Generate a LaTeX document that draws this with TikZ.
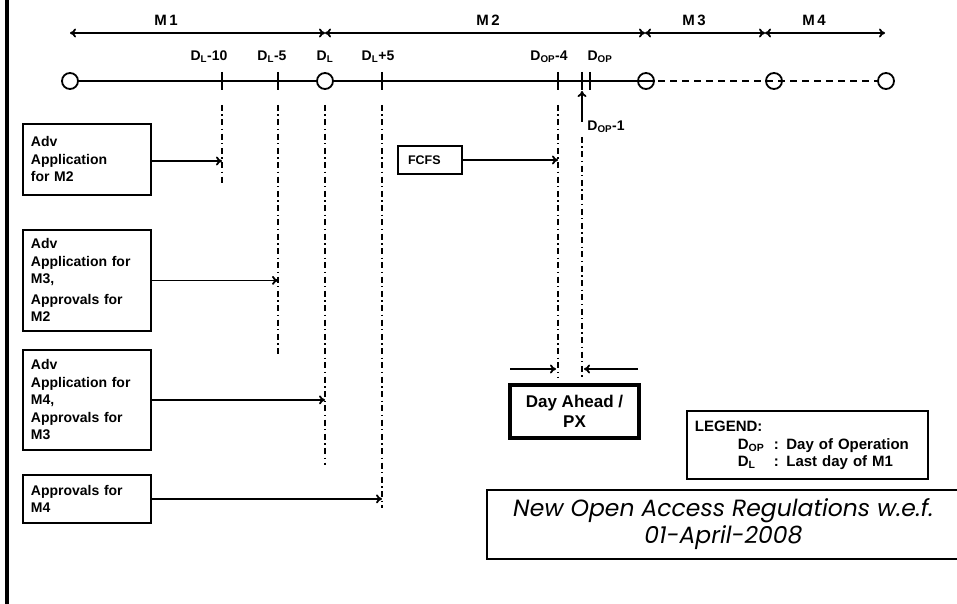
\documentclass[tikz,border=0pt]{standalone}
\usepackage{fontspec}
\setmainfont{Liberation Sans}
\newfontfamily\titlefont{Poppins}
\usetikzlibrary{arrows.meta}
\newcommand\dLsub{D\textsubscript{L}}
\newcommand\dOPsub{D\textsubscript{OP}}
\begin{document}
\begin{tikzpicture}[x=1pt,y=-1pt,
  thin line/.style={line width=1.8pt},
  span/.style={line width=1.8pt,{To[length=6pt,width=9pt]}-{To[length=6pt,width=9pt]}},
  arr/.style={line width=1.8pt,-{To[length=6pt,width=9pt]}},
  dd/.style={line width=1.7pt,dash pattern=on 6pt off 3.5pt on 1.3pt off 3.5pt},
  circ/.style={draw,circle,line width=1.8pt,minimum size=16pt,inner sep=0pt},
  mlabel/.style={font=\bfseries\fontsize{15}{17}\selectfont},
  dlabel/.style={font=\bfseries\fontsize{14}{16}\selectfont},
  lbox/.style={draw,line width=1.8pt,anchor=north west,minimum width=128pt,
    text width=112pt,align=left,inner xsep=8pt,inner ysep=0pt,
    font=\bfseries\fontsize{14}{17.5}\selectfont}
]
\clip (0,0) rectangle (957,604);
% left border
\draw[line width=4pt] (7,-5) -- (7,610);
% month spans
\coordinate (s0) at (70,33);
\coordinate (s1) at (325,33);
\coordinate (s2) at (645,33);
\coordinate (s3) at (765,33);
\coordinate (s4) at (885,33);
\draw[span] (s0) -- (s1);
\draw[span] (s1) -- (s2);
\draw[span] (s2) -- (s3);
\draw[span] (s3) -- (s4);
\node[mlabel] (m1) at (166,20) {M\,1};
\node[mlabel] (m2) at (488,20) {M\,2};
\node[mlabel] (m3) at (694,20) {M\,3};
\node[mlabel] (m4) at (814,20) {M\,4};
% timeline
\node[circ] (c0) at (70,81) {};
\node[circ] (c1) at (325,81) {};
\node[circ] (c2) at (646,81) {};
\node[circ] (c3) at (774,81) {};
\node[circ] (c4) at (886,81) {};
\draw[thin line] (c0) -- (c1) -- (c2.center);
\draw[thin line,dash pattern=on 7pt off 5pt] (c2.center) -- (c3.center) -- (c4);
% ticks
\foreach \x in {222,278,382,558,582,590}
  \draw[thin line] (\x,72) -- (\x,90);
% tick labels
\node[dlabel] (l1) at (209,57) {\dLsub-10};
\node[dlabel] (l2) at (272,57) {\dLsub-5};
\node[dlabel] (l3) at (325,57) {\dLsub};
\node[dlabel] (l4) at (378,57) {\dLsub+5};
\node[dlabel] (l5) at (549,57) {\dOPsub-4};
\node[dlabel] (l6) at (600,57) {\dOPsub};
\node[dlabel] (l7) at (606,127) {\dOPsub-1};
% vertical dash-dot lines
\coordinate (v1t) at (222,105); \coordinate (v1b) at (222,185);
\coordinate (v2t) at (278,105); \coordinate (v2b) at (278,355);
\coordinate (v3t) at (325,105); \coordinate (v3b) at (325,465);
\coordinate (v4t) at (382,105); \coordinate (v4b) at (382,508);
\coordinate (v5t) at (558,105); \coordinate (v5b) at (558,377);
\coordinate (v6t) at (582,137); \coordinate (v6b) at (582,377);
\draw[dd] (v1t) -- (v1b);
\draw[dd] (v2t) -- (v2b);
\draw[dd] (v3t) -- (v3b);
\draw[dd] (v4t) -- (v4b);
\draw[dd] (v5t) -- (v5b);
\draw[dd] (v6t) -- (v6b);
% D_OP-1 arrow
\coordinate (u0) at (582,122);
\coordinate (u1) at (582,91);
\draw[arr] (u0) -- (u1);
% left boxes
\node[lbox,minimum height=71pt] (b1) at (22,123) {Adv\\Application\\for M2};
\node[lbox,minimum height=101pt] (b2) at (22,229) {Adv\\Application for\\M3,\\[3pt]Approvals for\\M2};
\node[lbox,minimum height=100pt] (b3) at (22,349) {Adv\\Application for\\M4,\\Approvals for\\M3};
\node[lbox,minimum height=48pt] (b4) at (22,474) {Approvals for\\M4};
\draw[arr] (b1.east |- 0,161) -- (222,161);
\draw[arr] (b2.east) -- (b2.east -| v2t);
\draw[arr] (b3.east) -- (b3.east -| v3t);
\draw[arr] (b4.east) -- (b4.east -| v4t);
% FCFS
\node[draw,line width=1.8pt,minimum width=64pt,minimum height=28pt,
  text width=44pt,inner xsep=10pt,align=left,
  font=\bfseries\fontsize{12.5}{14}\selectfont] (fcfs) at (430,160) {FCFS};
\draw[arr] (fcfs.east) -- (fcfs.east -| v5t);
% Day ahead
\node[draw,line width=3.2pt,minimum width=129pt,minimum height=53pt,align=center,
  font=\bfseries\fontsize{17}{20}\selectfont] (da) at (574.5,411.5) {Day Ahead /\\PX};
\coordinate (a1) at (510,369); \coordinate (a2) at (556,369);
\coordinate (a3) at (638,369); \coordinate (a4) at (584,369);
\draw[arr] (a1) -- (a2);
\draw[arr] (a3) -- (a4);
% legend
\node[draw,line width=1.8pt,minimum width=241pt,minimum height=68pt,anchor=north west,
  text width=225pt,inner xsep=8pt,align=left,font=\bfseries\fontsize{15}{19}\selectfont] (leg) at (686,410)
  {LEGEND:\\[-1pt]
   \hspace*{43pt}\makebox[36pt][l]{\dOPsub}: Day of Operation\\[-2pt]
   \hspace*{43pt}\makebox[36pt][l]{\dLsub}: Last day of M1};
% title
\node[draw,line width=1.8pt,minimum width=473pt,minimum height=69pt,anchor=north west,
  align=center,font=\titlefont\itshape\fontsize{23.5}{27}\selectfont] (title) at (486,489)
  {New Open Access Regulations w.e.f.\\01-April-2008};
\end{tikzpicture}
\end{document}
